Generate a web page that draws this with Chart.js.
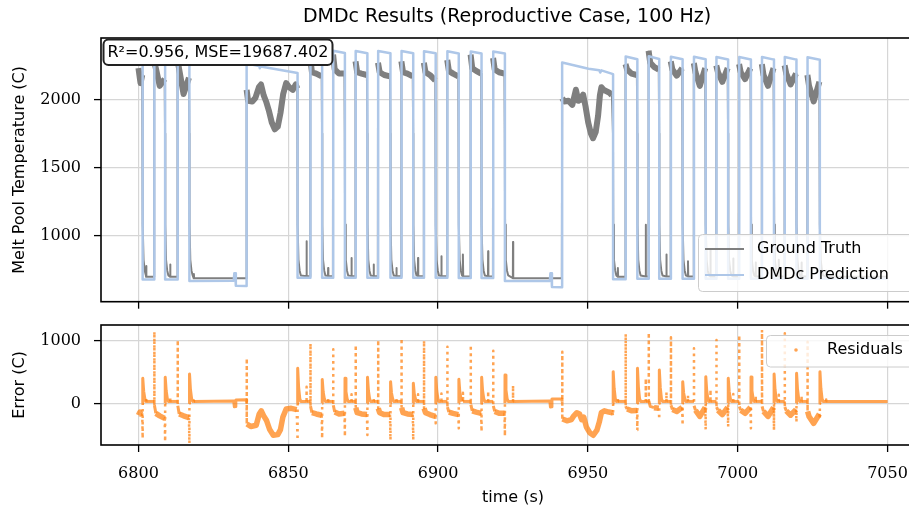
<!DOCTYPE html>
<html>
<head>
<meta charset="utf-8">
<script src="https://cdn.jsdelivr.net/npm/chart.js@4.4.1/dist/chart.umd.min.js"></script>
<style>
html, body { margin: 0; padding: 0; background: #fff; }
#wrap { position: relative; width: 909px; height: 515px; overflow: hidden; }
canvas { position: absolute; left: 0; }
#topChart { top: 0; }
#botChart { top: 315px; }
</style>
</head>
<body>
<div id="wrap">
  <canvas id="topChart" width="940" height="315"></canvas>
  <canvas id="botChart" width="940" height="200"></canvas>
</div>
<script>
// Tick labels
const xTicks = [6800, 6850, 6900, 6950, 7000, 7050];
const tempTicks = [1000, 1500, 2000];
const errTicks = [0, 1000];

// Laser on / off times (s) of each pulse
const pulseOn  = [6800.0, 6805.3, 6813.1, 6836.1, 6857.4, 6865.0, 6872.5, 6880.0, 6887.8, 6895.3, 6903.1, 6910.9,
                  6918.4, 6941.4, 6962.6, 6970.3, 6977.7, 6985.4, 6992.9, 7000.5, 7008.1, 7015.7, 7023.3];
const pulseOff = [6801.4, 6808.9, 6817.0, 6853.1, 6861.3, 6868.9, 6876.4, 6884.1, 6891.7, 6899.2, 6906.9, 6914.5,
                  6922.3, 6958.4, 6966.5, 6973.8, 6981.6, 6989.3, 6996.8, 7004.4, 7012.1, 7019.6, 7027.4];

// DMDc prediction: top level at start / end of each pulse, low level after each pulse
const predTopOn  = [2330, 2330, 2330, 2265, 2358, 2358, 2356, 2356, 2356, 2355, 2355, 2353,
                    2353, 2272, 2316, 2318, 2314, 2314, 2312, 2312, 2312, 2312, 2310];
const predTopOff = [2320, 2318, 2318, 2195, 2342, 2342, 2340, 2340, 2340, 2340, 2338, 2338,
                    2338, 2186, 2296, 2298, 2295, 2295, 2294, 2294, 2293, 2293, 2292];
const predLow    = [675, 675, 665, 688, 688, 688, 688, 688, 688, 688, 686, 686,
                    665, 678, 680, 680, 680, 680, 680, 680, 680, 680, 680];
const predLong1 = [[6840.3, 2246], [6840.5, 2230], [6840.8, 2242]];
const predLong2 = [[6950.2, 2226], [6953.8, 2214], [6954.1, 2198], [6954.5, 2214]];
const predNotch1 = [[6831.8, 666], [6832.0, 722], [6832.3, 722], [6832.5, 630], [6836.0, 628]];
const predNotch2 = [[6937.3, 665], [6937.5, 722], [6937.8, 722], [6938.0, 620], [6941.3, 618]];

// Ground truth: [start, early, middle, end] of each pulse (null = long pulse, listed below)
const truthHi = [
  [2230, 2150, 2120, 2180], [2280, 2230, 2100, 2150], [2290, 2220, 2040, 2160], null,
  [2304, 2200, 2190, 2170], [2330, 2220, 2190, 2190], [2280, 2200, 2190, 2180], [2270, 2200, 2180, 2170],
  [2280, 2200, 2190, 2170], [2270, 2200, 2180, 2140], [2290, 2210, 2190, 2170], [2330, 2230, 2210, 2190],
  [2305, 2220, 2200, 2190], null,
  [2260, 2220, 2190, 2180], [2358, 2270, 2240, 2220], [2280, 2220, 2175, 2230], [2267, 2200, 2100, 2230],
  [2250, 2200, 2130, 2230], [2260, 2200, 2150, 2230], [2260, 2180, 2100, 2230], [2250, 2190, 2110, 2190],
  [2180, 2100, 1985, 2130]
];
const truthLong1 = [[6836.1, 2070], [6836.6, 1990], [6838.0, 1985], [6839.0, 2010], [6840.2, 2090], [6840.9, 2110],
  [6841.8, 2030], [6842.6, 1985], [6843.5, 1920], [6844.5, 1830], [6845.5, 1780], [6846.5, 1800], [6847.4, 1900],
  [6848.3, 2040], [6849.3, 2120], [6850.3, 2090], [6851.5, 2070], [6852.5, 2110], [6853.0, 2080]];
const truthLong2 = [[6941.4, 2010], [6942.1, 1985], [6943.5, 1990], [6944.8, 1960], [6946.0, 2071], [6946.8, 1990],
  [6947.6, 2000], [6948.4, 2035], [6949.2, 1950], [6950.1, 1830], [6951.0, 1750], [6951.7, 1715], [6952.6, 1760],
  [6953.4, 1880], [6954.0, 2030], [6954.5, 2090], [6955.3, 2070], [6956.2, 2060], [6957.2, 2050], [6958.0, 2030]];
// cool-down after each pulse: [seconds after switch-off, temperature]
const truthFall = [[-0.03, 1750], [0.05, 1080], [0.3, 820], [0.7, 740], [1.1, 705]];
const truthBase = [695, 695, 684, 700, 700, 700, 700, 700, 700, 700, 698, 698,
                   685, 695, 698, 698, 698, 698, 698, 698, 698, 698, 695];
const spikeT = [6802.6, 6810.6, 6818.5, 6856.1, 6863.3, 6871.1, 6878.5, 6886.1, 6893.3, 6901.1, 6908.3, 6916.7,
                6925.0, 6960.0, 6969.3, 6976.2, 6983.4, 6990.9, 6998.5, 7006.0, 7013.7, 7021.3, 7029.5];
const spikeV = [775, 785, 715, 956, 760, 834, 785, 760, 834, 846, 860, 883,
                952, 760, 1079, 860, 810, 900, 830, 800, 820, 800, 740];

// Residuals (C)
const resOn = [
  [-190, -140, -170, -160], [-30, -160, -200, -240], [-40, -170, -200, -230], null,
  [-50, -150, -170, -190], [-30, -140, -170, -160], [-70, -150, -170, -180], [-80, -150, -180, -180],
  [-70, -150, -170, -180], [-80, -150, -180, -210], [-60, -140, -160, -180], [-20, -120, -140, -160],
  [-40, -130, -160, -160], null,
  [-50, -90, -120, -115], [40, -50, -70, -80], [-30, -100, -130, -65], [-40, -110, -210, -65],
  [-60, -110, -180, -65], [-50, -110, -160, -65], [-50, -130, -210, -65], [-60, -120, -190, -100],
  [-130, -210, -320, -170]
];
const resLong1 = [[6836.2, -330], [6837.5, -370], [6839.3, -350], [6840.3, -170], [6841.0, -120], [6841.8, -200],
  [6842.7, -270], [6843.8, -420], [6845.0, -510], [6846.5, -500], [6847.4, -420], [6848.2, -220], [6849.3, -90],
  [6851.0, -80], [6852.8, -100]];
const resLong2 = [[6941.5, -250], [6943.0, -280], [6944.5, -260], [6945.3, -200], [6946.3, -150], [6947.2, -170],
  [6947.9, -260], [6948.6, -220], [6949.5, -380], [6950.6, -470], [6951.8, -510], [6953.0, -430], [6953.8, -300],
  [6954.5, -150], [6955.5, -120], [6957.0, -140], [6958.2, -150]];
const resRiseSpike = [1145, 1011, 720, 958, 862, 932, 1011, 1038, 1001, 905, 932, 841,
                      825, 1110, 1129, 1054, 878, 1011, 1091, 1171, 1118, 985];
const resFallDip = [-560, -612, -640, -586, -560, -530, -506, -586, -586, -320, -400, -453,
                    -522, -200, -426, -255, -350, -420, -373, -400, -426, -300, -250];
const resTailPeak = [400, 415, 468, 559, 380, 400, 415, 346, 319, 415, 383, 415,
                     452, 506, 559, 532, 346, 426, 399, 420, 468, 479, 506];
const resTailMid = [190, 200, 220, 260, 180, 190, 200, 165, 150, 200, 180, 200,
                    215, 240, 260, 250, 165, 200, 190, 200, 220, 225, 240];
const resBlip = [95, 105, 45, 265, 70, 145, 95, 70, 145, 156, 170, 195,
                 287, 80, 397, 178, 128, 218, 148, 118, 138, 118, 60];
const resBase = 30;
const resNotch1 = [[6831.8, 35], [6832.0, -55], [6832.4, -50], [6832.5, 52], [6836.0, 55]];
const resNotch2 = [[6937.3, 35], [6937.5, -60], [6937.8, -55], [6938.0, 68], [6941.3, 70]];

const endTime = 7050;

function pushPairs(pts, list) {
  list.forEach(p => pts.push({x: p[0], y: p[1]}));
}

function buildPred() {
  const pts = [];
  let lastY = null;
  for (let i = 0; i < pulseOn.length; i++) {
    const on = pulseOn[i], off = pulseOff[i];
    if (i > 0) pts.push({x: on, y: lastY});
    pts.push({x: on, y: predTopOn[i]});
    if (i === 3) pushPairs(pts, predLong1);
    if (i === 13) pushPairs(pts, predLong2);
    pts.push({x: off, y: predTopOff[i]});
    pts.push({x: off, y: predLow[i]});
    lastY = predLow[i];
    const notch = i === 2 ? predNotch1 : (i === 12 ? predNotch2 : null);
    if (notch) {
      pushPairs(pts, notch);
      lastY = notch[notch.length - 1][1];
    }
  }
  pts.push({x: endTime, y: lastY});
  return pts;
}

function buildTruth() {
  const pts = [];
  for (let i = 0; i < pulseOn.length; i++) {
    const on = pulseOn[i], off = pulseOff[i];
    if (i > 0) pts.push({x: on - 0.1, y: truthBase[i - 1], edge: true});
    const h = truthHi[i];
    if (h) {
      pts.push({x: i === 0 ? on : on - 0.05, y: h[0]});
      pts.push({x: on + 0.5, y: h[1]});
      pts.push({x: (on + off) / 2, y: h[2]});
      pts.push({x: off - 0.15, y: h[3]});
    } else {
      pushPairs(pts, i === 3 ? truthLong1 : truthLong2);
    }
    truthFall.forEach(p => pts.push({x: off + p[0], y: p[1], edge: true}));
    pts.push({x: spikeT[i] - 0.05, y: truthBase[i], edge: true});
    pts.push({x: spikeT[i], y: spikeV[i], edge: true});
    pts.push({x: spikeT[i] + 0.08, y: truthBase[i], edge: true});
  }
  pts.push({x: endTime, y: truthBase[truthBase.length - 1], edge: true});
  return pts;
}

function buildRes() {
  const pts = [];
  for (let i = 0; i < pulseOn.length; i++) {
    const on = pulseOn[i], off = pulseOff[i];
    if (i > 0) {
      pts.push({x: on, y: resBase});
      pts.push({x: on, y: resRiseSpike[i - 1], dot: true});
    }
    const r = resOn[i];
    if (r) {
      pts.push({x: i === 0 ? on : on + 0.03, y: r[0]});
      pts.push({x: on + 0.5, y: r[1]});
      pts.push({x: (on + off) / 2, y: r[2]});
      pts.push({x: off - 0.15, y: r[3]});
    } else {
      pushPairs(pts, i === 3 ? resLong1 : resLong2);
    }
    pts.push({x: off, y: resFallDip[i], dot: true});
    pts.push({x: off + 0.01, y: 0});
    pts.push({x: off + 0.04, y: resTailPeak[i]});
    pts.push({x: off + 0.35, y: resTailMid[i]});
    pts.push({x: off + 0.75, y: 70});
    pts.push({x: off + 1.1, y: resBase});
    pts.push({x: spikeT[i], y: resBase});
    pts.push({x: spikeT[i], y: resBlip[i], dot: true});
    pts.push({x: spikeT[i] + 0.03, y: resBase});
    if (i === 2) pushPairs(pts, resNotch1);
    if (i === 12) pushPairs(pts, resNotch2);
  }
  pts.push({x: endTime, y: resBase});
  return pts;
}

const predPts = buildPred();
const truthPts = buildTruth();
const resPts = buildRes();

const gridColor = '#d6d6d6';
const tickFont = {family: 'DejaVu Serif', size: 16};
const labelFont = {family: 'DejaVu Sans', size: 16};
const truthColor = '#7f7f7f';
const predColor = '#aec7e8';
const resColor = 'rgba(255, 127, 14, 0.72)';

function roundBox(ctx, x, y, w, h, r) {
  ctx.beginPath();
  ctx.moveTo(x + r, y);
  ctx.lineTo(x + w - r, y);
  ctx.arcTo(x + w, y, x + w, y + r, r);
  ctx.lineTo(x + w, y + h - r);
  ctx.arcTo(x + w, y + h, x + w - r, y + h, r);
  ctx.lineTo(x + r, y + h);
  ctx.arcTo(x, y + h, x, y + h - r, r);
  ctx.lineTo(x, y + r);
  ctx.arcTo(x, y, x + r, y, r);
  ctx.closePath();
}

// spines all round, and the y tick labels at a fixed distance from the axis
function frameAndLabels(chart, ticks) {
  const ctx = chart.ctx, a = chart.chartArea, ys = chart.scales.y;
  ctx.strokeStyle = '#000';
  ctx.lineWidth = 1.6;
  ctx.strokeRect(a.left, a.top, a.right - a.left, a.bottom - a.top);
  ctx.fillStyle = '#000';
  ctx.font = '16px "DejaVu Serif"';
  ctx.textAlign = 'right';
  ctx.textBaseline = 'middle';
  ticks.forEach(v => ctx.fillText(String(v), 81, ys.getPixelForValue(v) + 0.5));
}

const topDeco = {
  id: 'topDeco',
  afterDraw(chart) {
    const ctx = chart.ctx;
    ctx.save();
    frameAndLabels(chart, tempTicks);

    // title
    ctx.fillStyle = '#000';
    ctx.font = '19px "DejaVu Sans"';
    ctx.textAlign = 'center';
    ctx.textBaseline = 'middle';
    ctx.fillText('DMDc Results (Reproductive Case, 100 Hz)', 507, 17);

    // score box
    roundBox(ctx, 103.5, 39.5, 229, 25.5, 5);
    ctx.fillStyle = '#fff';
    ctx.fill();
    ctx.lineWidth = 2;
    ctx.strokeStyle = '#222';
    ctx.stroke();
    ctx.fillStyle = '#000';
    ctx.font = '16px "DejaVu Sans"';
    ctx.textAlign = 'left';
    ctx.fillText('R²=0.956, MSE=19687.402', 107.5, 52.5);

    // legend
    roundBox(ctx, 698.5, 234.5, 240, 57, 4);
    ctx.fillStyle = 'rgba(255,255,255,0.8)';
    ctx.fill();
    ctx.lineWidth = 1;
    ctx.strokeStyle = '#cccccc';
    ctx.stroke();
    ctx.lineWidth = 2.2;
    ctx.strokeStyle = truthColor;
    ctx.beginPath(); ctx.moveTo(705, 249); ctx.lineTo(744, 249); ctx.stroke();
    ctx.strokeStyle = predColor;
    ctx.beginPath(); ctx.moveTo(705, 275); ctx.lineTo(744, 275); ctx.stroke();
    ctx.fillStyle = '#000';
    ctx.fillText('Ground Truth', 757, 249);
    ctx.fillText('DMDc Prediction', 757, 275);
    ctx.restore();
  }
};

const botDeco = {
  id: 'botDeco',
  afterDraw(chart) {
    const ctx = chart.ctx;
    ctx.save();
    frameAndLabels(chart, errTicks);
    roundBox(ctx, 766.5, 20.5, 200, 31.5, 4);
    ctx.fillStyle = 'rgba(255,255,255,0.8)';
    ctx.fill();
    ctx.lineWidth = 1;
    ctx.strokeStyle = '#cccccc';
    ctx.stroke();
    ctx.fillStyle = resColor;
    ctx.beginPath(); ctx.arc(796, 35, 1.8, 0, Math.PI * 2); ctx.fill();
    ctx.fillStyle = '#000';
    ctx.font = '16px "DejaVu Sans"';
    ctx.textAlign = 'left';
    ctx.textBaseline = 'middle';
    ctx.fillText('Residuals', 827, 34.5);
    ctx.restore();
  }
};

function setTicks(list) {
  return s => { s.ticks = list.map(v => ({value: v})); };
}

// fixed axis boxes so both panels line up with the reference
function fixWidth(w) {
  return s => { s.width = w; s.paddingTop = 0; s.paddingBottom = 0; };
}
function fixHeight(h) {
  return s => { s.height = h; s.paddingLeft = 0; s.paddingRight = 0; };
}

const gridOpts = {color: gridColor, lineWidth: 1.2, tickColor: '#000', tickLength: 7, tickWidth: 1.3};

function isDot(c) {
  return !!(resPts[c.p0DataIndex].dot || resPts[c.p1DataIndex].dot);
}

function thickTruth(c) {
  const a = truthPts[c.p0DataIndex], b = truthPts[c.p1DataIndex];
  return !a.edge && !b.edge && a.y > 1500 && b.y > 1500;
}

new Chart(document.getElementById('topChart'), {
  type: 'line',
  data: {
    datasets: [
      {
        label: 'Ground Truth',
        data: truthPts,
        borderColor: truthColor,
        borderWidth: 2,
        pointRadius: 0,
        tension: 0,
        order: 1,
        borderJoinStyle: 'round',
        segment: {
          borderWidth: c => thickTruth(c) ? 6 : 2
        }
      },
      {
        label: 'DMDc Prediction',
        data: predPts,
        borderColor: predColor,
        borderWidth: 2.5,
        pointRadius: 0,
        tension: 0,
        order: 0,
        borderJoinStyle: 'round'
      }
    ]
  },
  options: {
    responsive: false,
    animation: false,
    devicePixelRatio: 1,
    events: [],
    layout: {padding: {left: 0, right: 15, top: 38, bottom: 0}},
    plugins: {legend: {display: false}, tooltip: {enabled: false}},
    scales: {
      x: {
        type: 'linear', min: 6787.5, max: 7062.5,
        afterBuildTicks: setTicks(xTicks),
        afterFit: fixHeight(13.3),
        ticks: {display: false},
        grid: gridOpts,
        border: {display: false}
      },
      y: {
        type: 'linear', min: 512, max: 2452,
        afterBuildTicks: setTicks(tempTicks),
        afterFit: fixWidth(101),
        ticks: {display: false},
        grid: gridOpts,
        border: {display: false},
        title: {display: true, text: 'Melt Pool Temperature (C)', font: labelFont, color: '#000', padding: {top: 10, bottom: 0}}
      }
    }
  },
  plugins: [topDeco]
});

new Chart(document.getElementById('botChart'), {
  type: 'line',
  data: {
    datasets: [
      {
        label: 'Residuals',
        data: resPts,
        borderColor: resColor,
        borderWidth: 3,
        pointRadius: 0,
        tension: 0,
        borderJoinStyle: 'round',
        segment: {
          borderDash: c => isDot(c) ? [2.5, 4] : undefined,
          borderWidth: c => isDot(c) ? 2.5 : ((resPts[c.p0DataIndex].y < -60 && resPts[c.p1DataIndex].y < -60) ? 5.5 : 3)
        }
      }
    ]
  },
  options: {
    responsive: false,
    animation: false,
    devicePixelRatio: 1,
    events: [],
    layout: {padding: {left: 0, right: 15, top: 10, bottom: 0}},
    plugins: {legend: {display: false}, tooltip: {enabled: false}},
    scales: {
      x: {
        type: 'linear', min: 6787.5, max: 7062.5,
        afterBuildTicks: setTicks(xTicks),
        afterFit: fixHeight(70),
        ticks: {font: tickFont, color: '#000', padding: 12, maxRotation: 0, callback: v => String(v)},
        grid: gridOpts,
        border: {display: false},
        title: {display: true, text: 'time (s)', font: labelFont, color: '#000', padding: {top: 0, bottom: 8}}
      },
      y: {
        type: 'linear', min: -666, max: 1251,
        afterBuildTicks: setTicks(errTicks),
        afterFit: fixWidth(101),
        ticks: {display: false},
        grid: gridOpts,
        border: {display: false},
        title: {display: true, text: 'Error (C)', font: labelFont, color: '#000', padding: {top: 10, bottom: 0}}
      }
    }
  },
  plugins: [botDeco]
});
</script>
</body>
</html>
